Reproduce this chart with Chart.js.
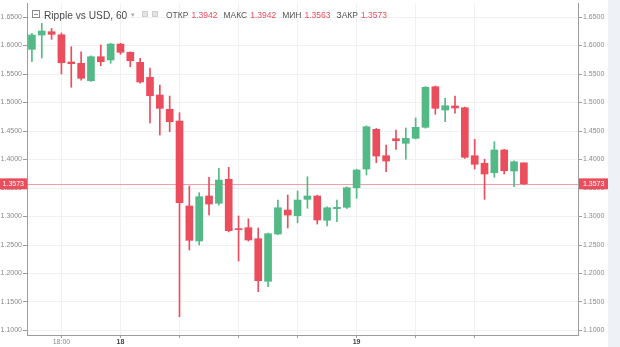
<!DOCTYPE html>
<html>
<head>
<meta charset="utf-8">
<script src="https://cdn.jsdelivr.net/npm/chart.js@4.4.0/dist/chart.umd.min.js"></script>
<style>
  html, body { margin: 0; padding: 0; background: #fff; }
  #wrap { width: 620px; height: 347px; position: relative; }
</style>
</head>
<body>
<div id="wrap"><canvas id="candleChart"></canvas></div>
<script>
// hourly XRP/USD candles, 17th 15:00 .. 19th 17:00
const opens  = [1.5933, 1.6184, 1.6242, 1.6189, 1.5711, 1.5688, 1.5382, 1.5804, 1.5746, 1.6026,
                1.5881, 1.5705, 1.5442, 1.5132, 1.4881, 1.4675, 1.3184, 1.2570, 1.3360, 1.3232,
                1.3653, 1.2781, 1.2804, 1.2611, 1.1863, 1.2693, 1.3114, 1.3014, 1.3302, 1.3360,
                1.2933, 1.3137, 1.3161, 1.3505, 1.3833, 1.4530, 1.4067, 1.4365, 1.4284, 1.4372,
                1.4565, 1.5277, 1.4868, 1.4939, 1.4909, 1.4067, 1.3933, 1.3768, 1.4167, 1.3798,
                1.3942];
const highs  = [1.6214, 1.6389, 1.6300, 1.6220, 1.5979, 1.5891, 1.5820, 1.6009, 1.6040, 1.6040,
                1.5890, 1.5775, 1.5605, 1.5307, 1.5114, 1.4821, 1.3535, 1.3418, 1.3688, 1.3846,
                1.3863, 1.3009, 1.2961, 1.2798, 1.2710, 1.3289, 1.3377, 1.3447, 1.3698, 1.3375,
                1.3170, 1.3289, 1.3520, 1.3830, 1.4590, 1.4545, 1.4254, 1.4518, 1.4553, 1.4728,
                1.5280, 1.5290, 1.5074, 1.5114, 1.4920, 1.4354, 1.4004, 1.4312, 1.4180, 1.3975,
                1.3942];
const lows   = [1.5716, 1.5781, 1.6109, 1.5500, 1.5267, 1.5390, 1.5370, 1.5646, 1.5688, 1.5846,
                1.5628, 1.5340, 1.4640, 1.4430, 1.4488, 1.1242, 1.2412, 1.2500, 1.3026, 1.3200,
                1.2730, 1.2219, 1.2570, 1.1681, 1.1768, 1.2680, 1.2798, 1.2891, 1.3144, 1.2867,
                1.2833, 1.2909, 1.3140, 1.3319, 1.3728, 1.3944, 1.3786, 1.4179, 1.4004, 1.4360,
                1.4550, 1.4793, 1.4663, 1.4811, 1.4020, 1.3833, 1.3302, 1.3688, 1.3746, 1.3523,
                1.3563];
const closes = [1.6184, 1.6254, 1.6196, 1.5698, 1.5681, 1.5425, 1.5804, 1.5716, 1.6026, 1.5881,
                1.5733, 1.5360, 1.5119, 1.4898, 1.4663, 1.3242, 1.2582, 1.3347, 1.3219, 1.3640,
                1.2751, 1.2770, 1.2588, 1.1874, 1.2698, 1.3154, 1.3026, 1.3289, 1.3360, 1.2939,
                1.3154, 1.3161, 1.3505, 1.3816, 1.4575, 1.4061, 1.3974, 1.4330, 1.4372, 1.4565,
                1.5267, 1.4898, 1.4944, 1.4904, 1.4039, 1.3916, 1.3746, 1.4167, 1.3804, 1.3961,
                1.3573];

const emptySlots = 5; // free space to the right of the last candle
const tickPos  = [3, 9, 15, 21, 27, 33, 39, 45];
const tickText = ['18:00', '18', '', '', '', '19', '', ''];
const yTicks = [1.10, 1.15, 1.20, 1.25, 1.30, 1.35, 1.40, 1.45, 1.50, 1.55, 1.60, 1.65];
const yMin = 1.0921, yMax = 1.6746;
const lastPrice = 1.3573;
const legendVals = ['ОТКР', '1.3942', 'МАКС', '1.3942', 'МИН', '1.3563', 'ЗАКР', '1.3573'];

const UP = '#53b987', DOWN = '#eb4d5c';
const colors = opens.map((o, i) => closes[i] >= o ? UP : DOWN);
const labels = Array.from({ length: opens.length + emptySlots }, (_, i) => i);

const FONT = 'Liberation Sans, Arial, sans-serif';

const decorPlugin = {
    id: 'decor',
    beforeDraw(chart) {
        const ctx = chart.ctx;
        ctx.save();
        ctx.fillStyle = '#eef1f5';
        ctx.fillRect(608, 0, 12, chart.height); // scrollbar strip
        ctx.restore();
    },
    beforeDatasetsDraw(chart) {
        const { ctx, chartArea, scales } = chart;
        const y = Math.round(scales.y.getPixelForValue(lastPrice)) + 0.5;
        ctx.save();
        ctx.strokeStyle = 'rgba(235,77,92,0.55)';
        ctx.lineWidth = 1;
        ctx.beginPath();
        ctx.moveTo(chartArea.left, y);
        ctx.lineTo(chartArea.right, y);
        ctx.stroke();
        ctx.restore();
    },
    afterDraw(chart) {
        const { ctx, chartArea, scales } = chart;
        const y = scales.y.getPixelForValue(lastPrice);
        ctx.save();
        // price labels on both axes
        ctx.fillStyle = DOWN;
        ctx.fillRect(0, y - 5.5, chartArea.left, 11);
        ctx.fillRect(chartArea.right + 1, y - 5.5, 29, 11);
        ctx.fillStyle = '#fff';
        ctx.font = '7px ' + FONT;
        ctx.textBaseline = 'middle';
        ctx.textAlign = 'right';
        ctx.fillText(lastPrice.toFixed(4), chartArea.left - 3, y + 0.5);
        ctx.textAlign = 'left';
        ctx.fillText(lastPrice.toFixed(4), chartArea.right + 5, y + 0.5);

        // header
        ctx.strokeStyle = '#8a8a8a';
        ctx.lineWidth = 1;
        ctx.strokeRect(32.5, 10.5, 7, 7);
        ctx.beginPath();
        ctx.moveTo(34, 14.5); ctx.lineTo(38, 14.5);
        ctx.stroke();
        ctx.textBaseline = 'alphabetic';
        ctx.fillStyle = '#4a4a4a';
        ctx.font = '10.2px ' + FONT;
        ctx.fillText('Ripple vs USD, 60', 44, 18.5);
        ctx.fillStyle = '#aaa';
        ctx.font = '7px ' + FONT;
        ctx.fillText('▾', 131, 17);
        ctx.fillStyle = '#e4e4e4';
        ctx.strokeStyle = '#cfcfcf';
        ctx.fillRect(142, 11, 6, 6); ctx.strokeRect(142.5, 11.5, 5, 5);
        ctx.fillRect(152, 11, 6, 6); ctx.strokeRect(152.5, 11.5, 5, 5);

        ctx.font = '8.5px ' + FONT;
        let x = 166;
        legendVals.forEach((t, i) => {
            ctx.fillStyle = i % 2 === 0 ? '#555' : DOWN;
            ctx.fillText(t, x, 18);
            x += ctx.measureText(t).width + (i % 2 === 0 ? 3 : 6);
        });
        ctx.restore();
    }
};

const yAxis = (position) => ({
    position: position,
    min: yMin,
    max: yMax,
    afterBuildTicks: s => { s.ticks = yTicks.map(v => ({ value: v })); },
    afterFit: s => {
        s.width = position === 'left' ? 27 : 42;
        s.paddingTop = 0; s.paddingBottom = 0;
    },
    border: { color: '#9c9c9c' },
    grid: {
        color: '#f0f1f3',
        drawOnChartArea: position === 'left',
        tickLength: 4,
        tickColor: '#9c9c9c'
    },
    ticks: {
        padding: 1,
        color: '#8a8a8a',
        font: { family: FONT, size: 7 },
        callback: v => Number(v).toFixed(4)
    }
});

const config = {
    type: 'bar',
    data: {
        labels: labels,
        datasets: [
            {
                label: 'body',
                data: opens.map((o, i) => [o, closes[i]]),
                backgroundColor: colors,
                barThickness: 7,
                minBarLength: 1,
                grouped: false,
                order: 0
            },
            {
                label: 'wick',
                data: lows.map((l, i) => [l, highs[i]]),
                backgroundColor: colors,
                barThickness: 1,
                grouped: false,
                order: 1
            }
        ]
    },
    options: {
        responsive: true,
        maintainAspectRatio: false,
        animation: false,
        layout: { padding: { top: 3, left: 0, right: 0, bottom: 0 } },
        plugins: { legend: { display: false }, tooltip: { enabled: false } },
        scales: {
            x: {
                type: 'category',
                offset: true,
                afterFit: s => { s.height = 12; s.paddingLeft = 0; s.paddingRight = 0; },
                border: { color: '#9c9c9c' },
                grid: {
                    offset: false,
                    color: '#f0f1f3',
                    tickLength: 3,
                    tickColor: '#9c9c9c'
                },
                ticks: {
                    autoSkip: false,
                    maxRotation: 0,
                    padding: 0,
                    color: c => (c.tick && (c.tick.label === '18' || c.tick.label === '19')) ? '#444' : '#8a8a8a',
                    font: c => ({
                        family: FONT,
                        size: 7,
                        weight: (c.tick && (c.tick.label === '18' || c.tick.label === '19')) ? 'bold' : 'normal'
                    }),
                    callback: (v, i) => {
                        const k = tickPos.indexOf(i);
                        return k < 0 ? null : tickText[k];
                    }
                }
            },
            y: yAxis('left'),
            y2: yAxis('right')
        }
    },
    plugins: [decorPlugin]
};

const ctx = document.getElementById('candleChart').getContext('2d');
new Chart(ctx, config);
</script>
</body>
</html>
